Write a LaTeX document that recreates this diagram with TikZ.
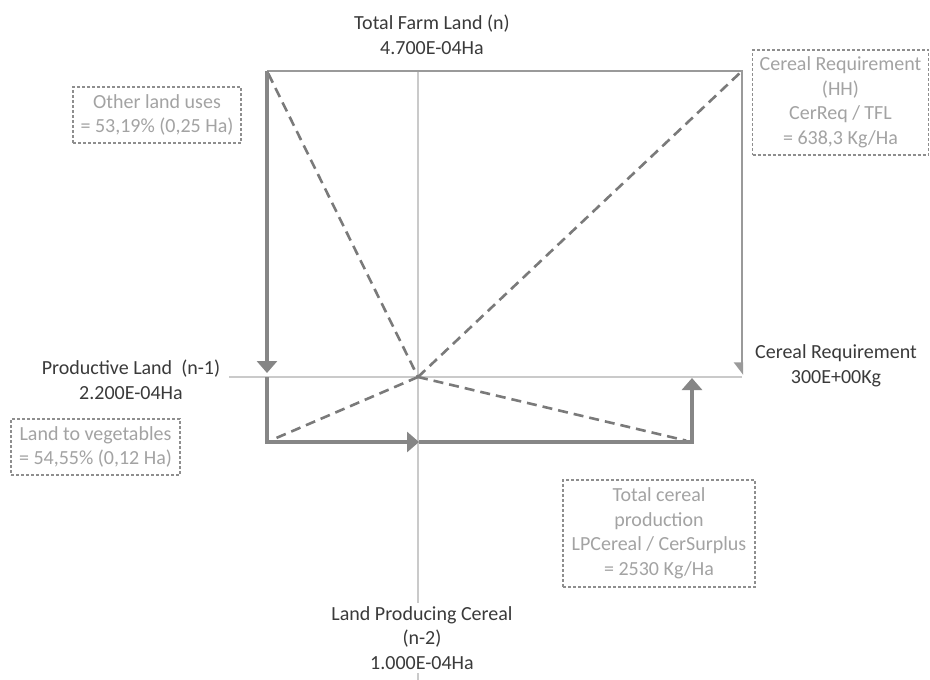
\documentclass[tikz,border=0pt]{standalone}
\usepackage{fontspec}
\setmainfont{Carlito}
\usetikzlibrary{arrows.meta}

\definecolor{labeltext}{HTML}{3A3A3A}
\definecolor{notetext}{HTML}{A3A3A3}
\definecolor{noteframe}{HTML}{8E8E8E}
\definecolor{axisline}{HTML}{CACACA}
\definecolor{frameline}{HTML}{9A9A9A}
\definecolor{flowline}{HTML}{868686}
\definecolor{rayline}{HTML}{7A7A7A}

\tikzset{
  every node/.style={font=\fontsize{20}{24.5}\selectfont},
  axislabel/.style={text=labeltext, align=center, inner sep=1pt},
  notebox/.style={draw=noteframe, line width=1.4pt, dash pattern=on 3pt off 2pt,
    text=notetext, align=center, inner sep=0pt},
  axisrule/.style={draw=axisline, line width=1.8pt},
  ray/.style={draw=rayline, line width=2.6pt, dash pattern=on 10pt off 6pt},
  framerule/.style={draw=frameline, line width=2.4pt},
  flow/.style={draw=flowline, line width=3.8pt},
  bigtip/.style={-{Triangle[width=20pt,length=12pt]}},
}

\begin{document}
\begin{tikzpicture}[x=1pt,y=-1pt]
  \fill[white] (0,0) rectangle (930,680);
  \useasboundingbox (0,0) rectangle (930,680);

  % corners of the land square and the cereal path
  \coordinate (TL) at (267,71);
  \coordinate (TR) at (742,71);
  \coordinate (C)  at (418,377);
  \coordinate (L)  at (267,377);
  \coordinate (R)  at (742,377);
  \coordinate (BL) at (267,442);
  \coordinate (BM) at (419,442);
  \coordinate (BR) at (692,442);
  \coordinate (UR) at (692,378);
  \coordinate (axT) at (418,71);
  \coordinate (axB) at (418,680);
  \coordinate (axL) at (229,377);

  % axes
  \draw[axisrule] (axT) -- (axB);
  \draw[axisrule] (axL) -- (R);

  % rays through the origin
  \draw[ray, shorten <=3pt] (TL) -- (C);
  \draw[ray, shorten >=3pt] (C) -- (TR);
  \draw[ray, shorten >=5pt] (C) -- (BL);
  \draw[ray, shorten >=6pt] (C) -- (BR);

  % total farm land frame
  \draw[framerule, -{Triangle[right,width=16pt,length=11pt]}, shorten >=2pt] (TL) -- (TR) -- (R);
  \draw[flow, bigtip, shorten >=4pt] (TL) -- (L);

  % land producing cereal path
  \draw[flow, bigtip] (L) -- (BL) -- (BM);
  \draw[flow, bigtip] (BM) -- (BR) -- (UR);

  % axis labels
  \node[axislabel] (tfl) at (432,35) {Total Farm Land (n)\\4.700E-04Ha};
  \node[axislabel] (pl) at (131,380) {Productive Land\ \ (n-1)\\2.200E-04Ha};
  \node[axislabel] (cr) at (836,366) {Cereal Requirement\\300E+00Kg};
  \node[axislabel, fill=white, inner sep=3pt] (lpc) at (422,638) {Land Producing Cereal\\(n-2)\\1.000E-04Ha};

  % notes
  \node[notebox, minimum width=168pt, minimum height=56pt] (other) at (157,115)
    {Other land uses\\= 53,19\% (0,25 Ha)};
  \node[notebox, minimum width=176pt, minimum height=105pt] (hh) at (840.5,102.5)
    {Cereal Requirement\\(HH)\\CerReq / TFL\\= 638,3 Kg/Ha};
  \node[notebox, minimum width=169pt, minimum height=56pt] (veg) at (95.5,447)
    {Land to vegetables\\= 54,55\% (0,12 Ha)};
  \node[notebox, minimum width=192pt, minimum height=107pt] (tcp) at (659,533.5)
    {Total cereal\\production\\LPCereal / CerSurplus\\= 2530 Kg/Ha};
\end{tikzpicture}
\end{document}
